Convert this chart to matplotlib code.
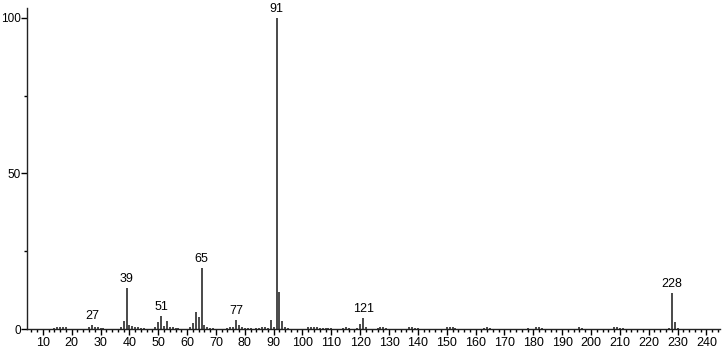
import matplotlib.pyplot as plt
from matplotlib.ticker import MultipleLocator

plt.rcParams['font.family'] = ['Liberation Sans', 'DejaVu Sans']

# m/z and relative intensity
mz = [14, 15, 16, 17, 18, 26, 27, 28, 29, 30, 31, 37, 38, 39, 40, 41, 42, 43, 44, 45,
      49, 50, 51, 52, 53, 54, 55, 56, 57, 61, 62, 63, 64, 65, 66, 67, 68, 69,
      74, 75, 76, 77, 78, 79, 80, 81, 82, 84, 85, 86, 87, 88, 89, 90, 91, 92, 93, 94, 95,
      102, 103, 104, 105, 106, 107, 108, 109, 110, 114, 115, 116, 119, 120, 121, 122,
      126, 127, 128, 129, 137, 138, 139, 140, 150, 151, 152, 153, 163, 164, 165,
      178, 181, 182, 183, 196, 197, 208, 209, 210, 211, 227, 228, 229, 230]
intensity = [0.4, 0.6, 0.5, 0.7, 0.6, 0.5, 1.4, 0.8, 0.6, 0.4, 0.3, 0.7, 2.7, 13.2, 1.2, 1.0, 0.6, 0.5, 0.4, 0.3,
             0.6, 2.3, 4.1, 1.0, 2.7, 0.8, 0.5, 0.3, 0.3, 0.5, 1.9, 5.4, 3.8, 19.6, 1.3, 0.6, 0.4, 0.3,
             0.4, 0.6, 0.6, 2.9, 1.2, 0.6, 0.4, 0.3, 0.3, 0.3, 0.4, 0.5, 0.5, 0.4, 3.0, 0.6, 100, 11.8, 2.5, 0.6, 0.3,
             0.5, 0.6, 0.5, 0.6, 0.4, 0.3, 0.4, 0.3, 0.3, 0.4, 0.6, 0.3, 0.3, 1.6, 3.5, 0.5,
             0.4, 0.5, 0.6, 0.3, 0.5, 0.6, 0.4, 0.3, 0.5, 0.6, 0.5, 0.3, 0.4, 0.5, 0.3,
             0.4, 0.5, 0.6, 0.4, 0.5, 0.3, 0.5, 0.6, 0.4, 0.3, 0.3, 11.6, 2.2, 0.4]
labelled = [27, 39, 51, 65, 77, 91, 121, 228]

fig = plt.figure(figsize=(7.23, 3.52), dpi=100)
ax = fig.add_axes([0.0373, 0.0653, 0.9585, 0.912])
ax.vlines(mz, 0, intensity, colors='#3a3a3a', linewidth=1.3)
for m in labelled:
    h = intensity[mz.index(m)]
    ax.annotate(str(m), (m, h), xytext=(0, 2), textcoords='offset points',
                ha='center', va='bottom', fontsize=9)

ax.set_xlim(4.5, 244.7)
ax.set_ylim(0, 103.2)
ax.spines['top'].set_visible(False)
ax.spines['right'].set_visible(False)
for s in ('left', 'bottom'):
    ax.spines[s].set_linewidth(1.0)
    ax.spines[s].set_color('#222222')
ax.set_xticks(range(10, 241, 10))
ax.xaxis.set_minor_locator(MultipleLocator(2))
ax.set_yticks([0, 50, 100])
ax.yaxis.set_minor_locator(MultipleLocator(25))
ax.tick_params(axis='x', which='major', length=4, width=1, labelsize=9, pad=2)
ax.tick_params(axis='y', which='major', length=4, width=1, labelsize=8.5, pad=0.5)
ax.tick_params(axis='both', which='minor', length=2.5, width=1)
plt.savefig('out.png', dpi=100)
